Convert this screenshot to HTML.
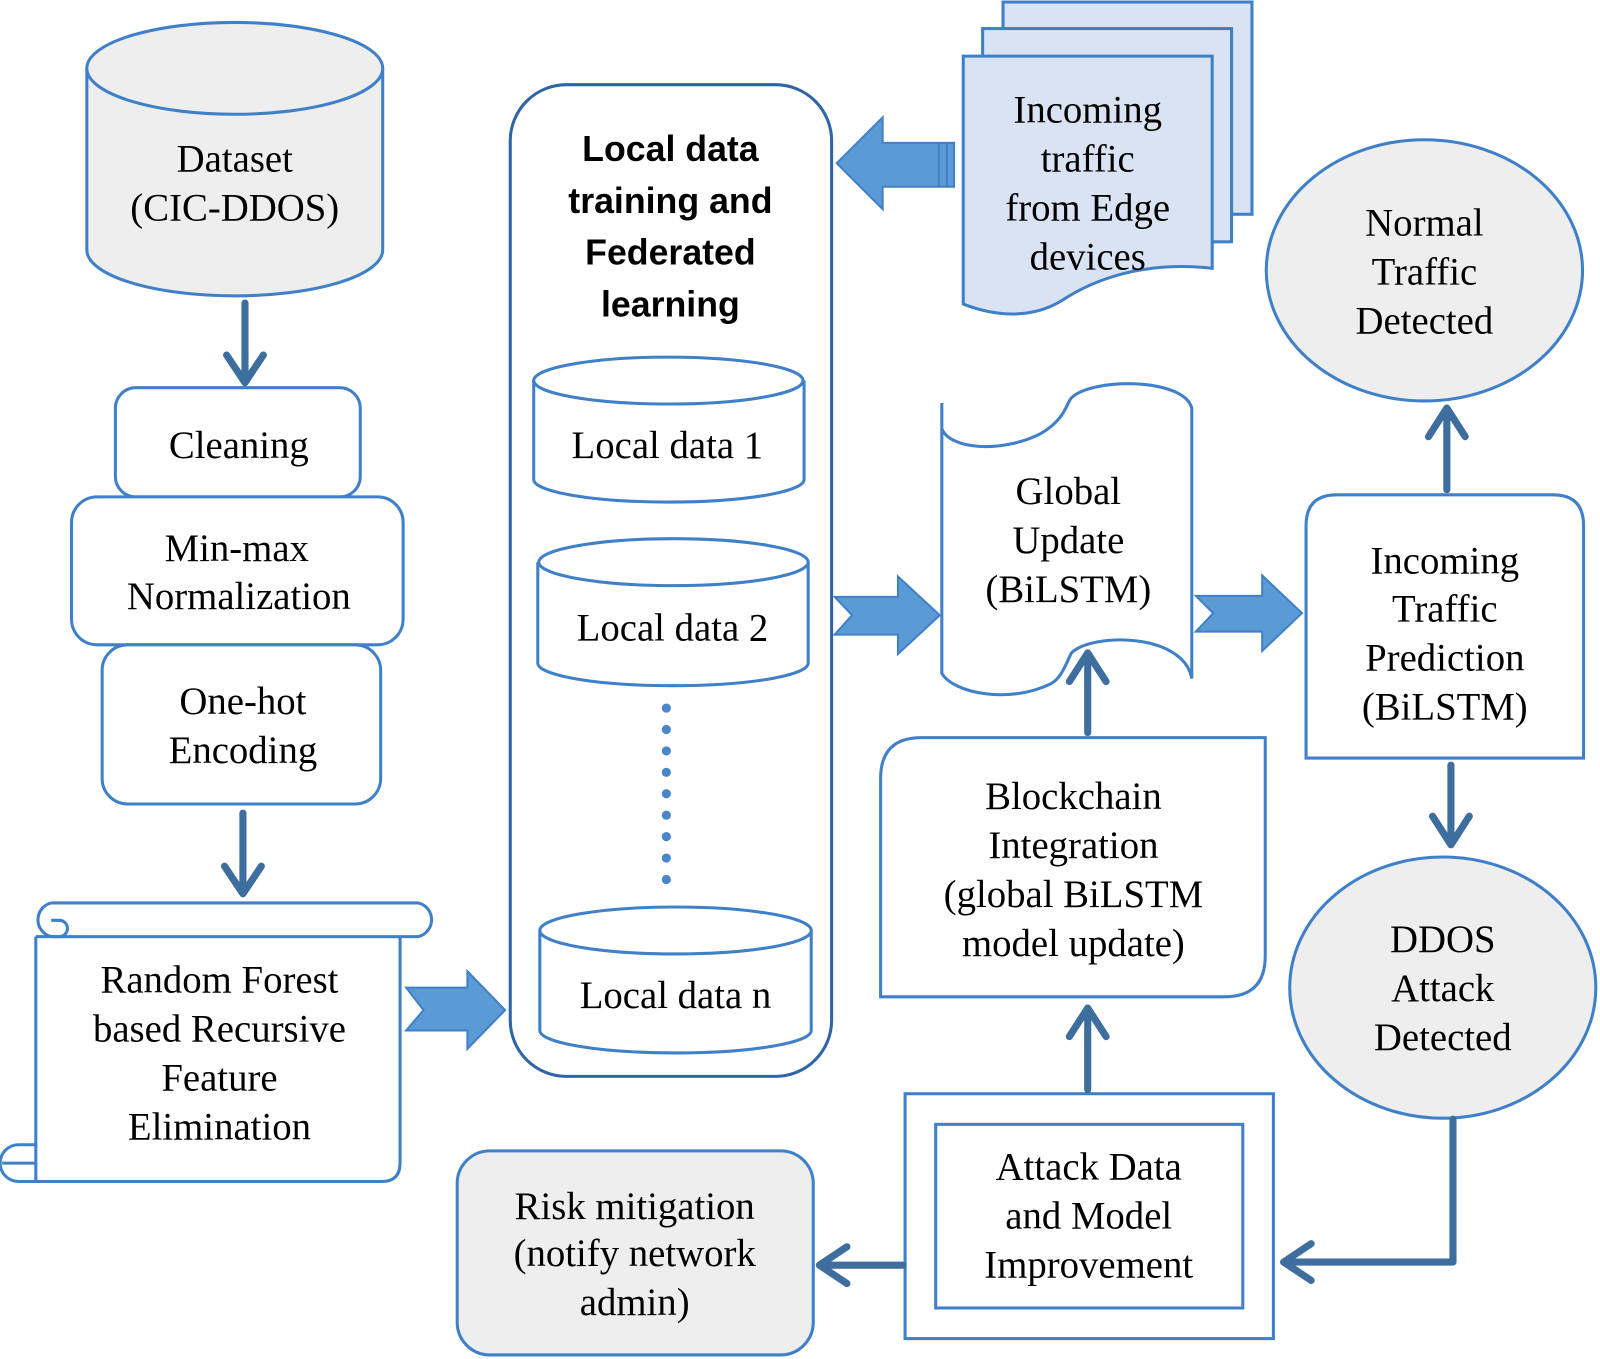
<!DOCTYPE html>
<html><head><meta charset="utf-8"><style>
html,body{margin:0;padding:0;background:#fff;}
svg{display:block;}
text{font-family:"Liberation Serif",serif;font-size:38px;fill:#000;text-anchor:middle;}
.b{font-family:"Liberation Sans",sans-serif;font-weight:bold;font-size:35px;}
</style></head><body>
<svg width="1600" height="1359" viewBox="0 0 1568 1332" xmlns="http://www.w3.org/2000/svg">
<g fill="none" stroke="#3f80c8" stroke-width="3">
<!-- Dataset cylinder -->
<path d="M85,67 L85,245 A145,45 0 0 0 375,245 L375,67" fill="#eeeeee"/>
<ellipse cx="230" cy="67" rx="145" ry="45" fill="#eeeeee"/>
<!-- Cleaning etc -->
<rect x="113" y="380" width="240" height="107" rx="20" fill="#fff"/>
<rect x="70" y="487" width="325" height="145" rx="25" fill="#fff"/>
<rect x="100" y="632" width="273" height="156" rx="25" fill="#fff"/>
<!-- Scroll -->
<path d="M35,918 L392,918 L392,1140 Q392,1158 374,1158 L18,1158" fill="#fff"/>
<path d="M50,885 L410,885 A17,17 0 0 1 410,918 L50,918" fill="#fff"/>
<path d="M50,885 A17,17 0 0 0 50,918 L58,918 A8,8 0 0 0 58,902 L50,902"/>
<path d="M35,918 L35,1122"/>
<path d="M18,1122 L35,1122 L35,1158 M18,1122 A18,18 0 0 0 18,1158 M2,1140 L35,1140"/>
<!-- Local container -->
<rect x="500" y="83" width="315" height="972" rx="55" stroke="#2e64a8" fill="#fff"/>
<!-- Local cylinders -->
<path d="M523,373 L523,470 A132,22 0 0 0 788,470 L788,373" fill="#fff"/><ellipse cx="655" cy="373" rx="132" ry="23" fill="#fff"/>
<path d="M527,551 L527,650 A132,22 0 0 0 792,650 L792,551" fill="#fff"/><ellipse cx="660" cy="551" rx="132" ry="23" fill="#fff"/>
<path d="M529,912 L529,1010 A133,22 0 0 0 795,1010 L795,912" fill="#fff"/><ellipse cx="662" cy="912" rx="133" ry="23" fill="#fff"/>
<!-- Documents stack -->
<rect x="983" y="2" width="244" height="208" fill="#dae3f3"/>
<rect x="963" y="28" width="244" height="209" fill="#dae3f3"/>
<path d="M944,55 L1188,55 L1188,263 C1120,255 1070,275 1040,295 C1010,313 975,310 944,298 Z" fill="#dae3f3"/>
<!-- Normal ellipse -->
<ellipse cx="1396" cy="265" rx="155" ry="128" fill="#eeeeee"/>
<!-- Global update -->
<path d="M923,395 L923,420 C930,440 980,445 1020,425 C1045,410 1045,395 1050,390 C1070,370 1160,370 1168,400 L1168,665 C1160,620 1070,620 1050,640 C1045,650 1040,665 1030,670 C990,690 935,680 923,660 Z" fill="#fff"/>
<!-- Incoming prediction -->
<path d="M1280,743 L1280,515 Q1280,485 1310,485 L1522,485 Q1552,485 1552,515 L1552,743 Z" fill="#fff"/>
<!-- DDOS -->
<ellipse cx="1414" cy="968" rx="150" ry="128" fill="#eeeeee"/>
<!-- Blockchain -->
<path d="M863,977 L863,763 Q863,723 903,723 L1240,723 L1240,937 Q1240,977 1200,977 Z" fill="#fff"/>
<!-- Attack -->
<rect x="887" y="1072" width="361" height="240" fill="#fff"/>
<rect x="917" y="1102" width="301" height="180" fill="#fff"/>
<!-- Risk -->
<rect x="448" y="1128" width="349" height="200" rx="32" fill="#eeeeee"/>
</g>
<!-- dots -->
<g fill="#4a86c8">
<circle cx="653" cy="694" r="4.5"/><circle cx="653" cy="715" r="4.5"/><circle cx="653" cy="736" r="4.5"/><circle cx="653" cy="757" r="4.5"/><circle cx="653" cy="778" r="4.5"/><circle cx="653" cy="799" r="4.5"/><circle cx="653" cy="820" r="4.5"/><circle cx="653" cy="841" r="4.5"/><circle cx="653" cy="862" r="4.5"/>
</g>
<!-- block arrows -->
<g fill="#5b9bd5" stroke="#3f80c8" stroke-width="2">
<path d="M398,968 L458,968 L458,952 L495,990 L458,1028 L458,1010 L398,1010 L415,990 Z"/>
<path d="M818,585 L880,585 L880,565 L921,603 L880,641 L880,622 L818,622 L835,603 Z"/>
<path d="M1172,584 L1237,584 L1237,564 L1276,601 L1237,638 L1237,619 L1172,619 L1189,601 Z"/>
<path d="M820,160 L865,115 L865,140 L935,140 L935,183 L865,183 L865,205 Z"/>
<path d="M920,140 L920,183 M928,140 L928,183" fill="none"/>
</g>
<!-- line arrows -->
<g fill="none" stroke="#3e6e9e" stroke-width="7" stroke-linecap="round" stroke-linejoin="round">
<path d="M240,297 L240,375 M222,348 L240,375 L258,348"/>
<path d="M238,797 L238,876 M220,849 L238,876 L256,849"/>
<path d="M1418,480 L1418,400 M1400,428 L1418,400 L1436,428"/>
<path d="M1422,750 L1422,828 M1404,800 L1422,828 L1440,800"/>
<path d="M1066,718 L1066,640 M1048,668 L1066,640 L1084,668"/>
<path d="M1066,1068 L1066,988 M1048,1016 L1066,988 L1084,1016"/>
<path d="M1424,1097 L1424,1237 L1258,1237 M1285,1219 L1258,1237 L1285,1255"/>
<path d="M885,1240 L803,1240 M830,1222 L803,1240 L830,1258"/>
</g>
<!-- texts -->
<text x="230" y="168">Dataset</text>
<text x="230" y="216">(CIC-DDOS)</text>
<text x="234" y="449">Cleaning</text>
<text x="232" y="550">Min-max</text>
<text x="234" y="597">Normalization</text>
<text x="238" y="700">One-hot</text>
<text x="238" y="748">Encoding</text>
<text x="215" y="973">Random Forest</text>
<text x="215" y="1021">based Recursive</text>
<text x="215" y="1069">Feature</text>
<text x="215" y="1117">Elimination</text>
<text class="b" x="657" y="158">Local data</text>
<text class="b" x="657" y="209">training and</text>
<text class="b" x="657" y="259">Federated</text>
<text class="b" x="657" y="310">learning</text>
<text x="654" y="449" font-size="36">Local data 1</text>
<text x="659" y="628" font-size="36">Local data 2</text>
<text x="662" y="988" font-size="36">Local data n</text>
<text x="1066" y="120">Incoming</text>
<text x="1066" y="168">traffic</text>
<text x="1066" y="216">from Edge</text>
<text x="1066" y="264">devices</text>
<text x="1396" y="231">Normal</text>
<text x="1396" y="279">Traffic</text>
<text x="1396" y="327">Detected</text>
<text x="1047" y="494">Global</text>
<text x="1047" y="542">Update</text>
<text x="1047" y="590">(BiLSTM)</text>
<text x="1416" y="562">Incoming</text>
<text x="1416" y="609">Traffic</text>
<text x="1416" y="657">Prediction</text>
<text x="1416" y="705">(BiLSTM)</text>
<text x="1052" y="793">Blockchain</text>
<text x="1052" y="841">Integration</text>
<text x="1052" y="889">(global BiLSTM</text>
<text x="1052" y="937">model update)</text>
<text x="1414" y="933">DDOS</text>
<text x="1414" y="981">Attack</text>
<text x="1414" y="1029">Detected</text>
<text x="1067" y="1156">Attack Data</text>
<text x="1067" y="1204">and Model</text>
<text x="1067" y="1252">Improvement</text>
<text x="622" y="1195">Risk mitigation</text>
<text x="622" y="1241">(notify network</text>
<text x="622" y="1289">admin)</text>
</svg>
</body></html>
